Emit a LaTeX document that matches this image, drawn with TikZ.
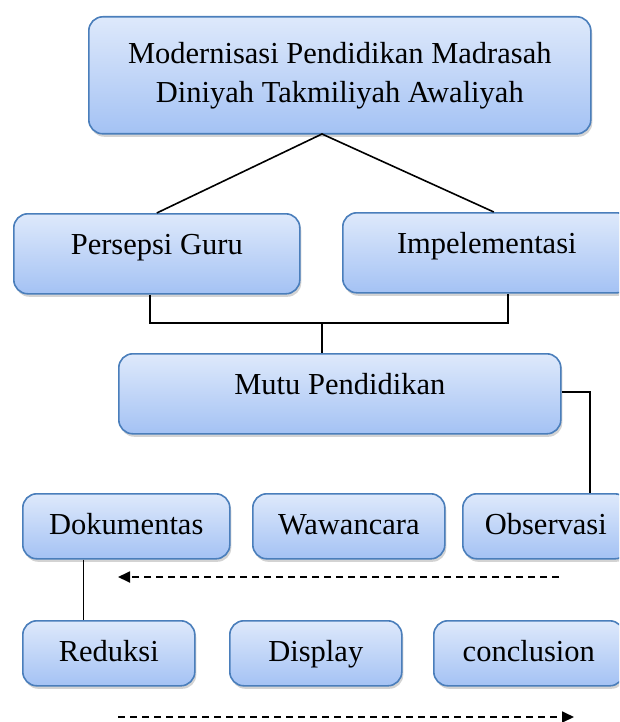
\documentclass[tikz,border=0pt]{standalone}
\usepackage{fontspec}
\setmainfont{Liberation Serif}
\usetikzlibrary{arrows.meta,calc,shadows}
\definecolor{boxtop}{RGB}{222,233,251}
\definecolor{boxbot}{RGB}{164,194,244}
\definecolor{boxline}{RGB}{74,126,187}
\tikzset{
  box/.style={draw=boxline, line width=1.6pt, rounded corners=14pt,
    top color=boxtop, bottom color=boxbot, inner xsep=0pt, inner ysep=0pt,
    drop shadow={shadow xshift=1.5pt, shadow yshift=-3pt, opacity=0.35},
    font=\fontsize{30.5}{39}\selectfont, anchor=north west},
  bigbox/.style={box, text height=41pt, text depth=39pt},
  smallbox/.style={box, text height=41pt, text depth=24pt},
  link/.style={line width=1.6pt},
  flow/.style={line width=1.8pt, dash pattern=on 7pt off 5pt, -{Triangle[length=12pt,width=11pt]}}
}
\begin{document}
\begin{tikzpicture}[x=1pt, y=-1pt, line cap=butt, line join=miter]
  \useasboundingbox (0,0) rectangle (619,722);
  \clip (0,0) rectangle (619,722);
  % boxes
  \node[box, minimum width=502pt, minimum height=117pt, align=center] (modern) at (88,16)
    {Modernisasi Pendidikan Madrasah\\Diniyah Takmiliyah Awaliyah};
  \node[bigbox, minimum width=286pt] (persepsi) at (13,213) {Persepsi Guru};
  \node[bigbox, minimum width=288pt] (impl) at (342,212) {Impelementasi};
  \node[bigbox, minimum width=442pt] (mutu) at (118,353) {Mutu Pendidikan};
  \node[smallbox, minimum width=207pt] (dok) at (22,493) {Dokumentas};
  \node[smallbox, minimum width=192pt] (waw) at (252,493) {Wawancara};
  \node[smallbox, minimum width=166pt] (obs) at (462,493) {Observasi};
  \node[smallbox, minimum width=172pt] (red) at (22,620) {Reduksi};
  \node[smallbox, minimum width=172pt] (disp) at (229,620) {Display};
  \node[smallbox, minimum width=190pt] (concl) at (433,620) {conclusion};
  % connectors
  \coordinate (apex) at (322,134);
  \coordinate (join) at (322,323);
  \draw[link] (persepsi.north) -- (apex) -- ($(impl.north)+(7,0)$);
  \draw[link] ($(persepsi.south)+(-7,0)$) |- (join) -| ($(impl.south)+(21,0)$);
  \draw[link] (join) -- (join |- mutu.north);
  \draw[link] ($(mutu.east)+(0,-2)$) -| ($(obs.north)+(44,0)$);
  \coordinate (dokleg) at ($(dok.south)+(-43,0)$);
  \draw[link] (dokleg) -- (dokleg |- red.north);
  % flow arrows
  \coordinate (flowA) at (559,577);
  \coordinate (flowB) at (118,577);
  \coordinate (flowC) at (118,717);
  \coordinate (flowD) at (574,717);
  \draw[flow] (flowA) -- (flowB);
  \draw[flow] (flowC) -- (flowD);
\end{tikzpicture}
\end{document}
